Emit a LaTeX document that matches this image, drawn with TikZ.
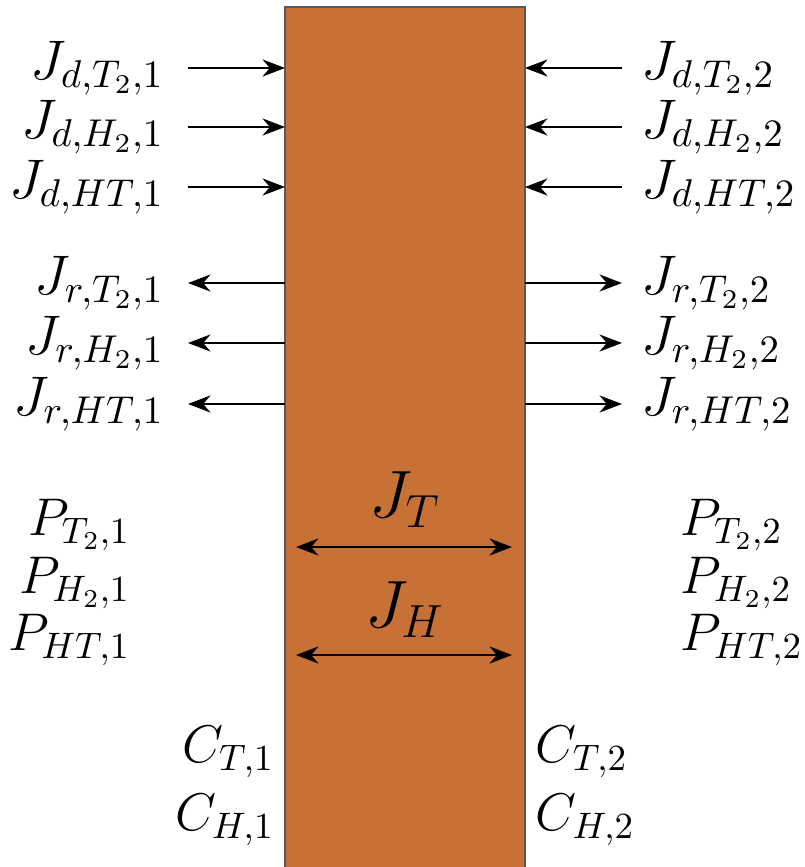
\documentclass[tikz,border=0pt]{standalone}
\usetikzlibrary{arrows.meta, positioning, calc}
\definecolor{copper}{HTML}{C87137}
\begin{document}
\begin{tikzpicture}[x=0.258pt, y=-0.258pt, font=\Large,
  flux/.style={line width=0.58pt, -{Stealth[length=5.8pt, width=4.4pt]}},
  both/.style={line width=0.58pt, {Stealth[length=5.8pt, width=4.4pt]}-{Stealth[length=5.8pt, width=4.4pt]}},
  lbl/.style={inner sep=0pt},
  small/.style={lbl, scale=0.95, transform shape}]
  \useasboundingbox (0,0) rectangle (805,867);
  \clip (0,0) rectangle (805,867);

  % Membrane
  \node[draw=gray!70!black, fill=copper, line width=0.35pt, minimum width=61.9pt,
        minimum height=227pt, inner sep=0pt, outer sep=0pt] (wall) at (405,447) {};

  % Left: incoming (dissociation) fluxes
  \node[lbl, anchor=east] (jdT1) at (165,68) {$J_{d,T_2,1}$};
  \node[lbl, anchor=east] (jdH1) at (165,127) {$J_{d,H_2,1}$};
  \node[lbl, anchor=east] (jdX1) at (165,187) {$J_{d,HT,1}$};
  \draw[flux] ($(jdT1.east)+(23,0)$) -- (jdT1 -| wall.west);
  \draw[flux] ($(jdH1.east)+(23,0)$) -- (jdH1 -| wall.west);
  \draw[flux] ($(jdX1.east)+(23,0)$) -- (jdX1 -| wall.west);

  % Left: outgoing (recombination) fluxes
  \node[lbl, anchor=east] (jrT1) at (165,283) {$J_{r,T_2,1}$};
  \node[lbl, anchor=east] (jrH1) at (165,343) {$J_{r,H_2,1}$};
  \node[lbl, anchor=east] (jrX1) at (165,404) {$J_{r,HT,1}$};
  \draw[flux] (jrT1 -| wall.west) -- ($(jrT1.east)+(23,0)$);
  \draw[flux] (jrH1 -| wall.west) -- ($(jrH1.east)+(23,0)$);
  \draw[flux] (jrX1 -| wall.west) -- ($(jrX1.east)+(23,0)$);

  % Right: incoming fluxes
  \node[lbl, anchor=west] (jdT2) at (641,68) {$J_{d,T_2,2}$};
  \node[lbl, anchor=west] (jdH2) at (641,127) {$J_{d,H_2,2}$};
  \node[lbl, anchor=west] (jdX2) at (641,187) {$J_{d,HT,2}$};
  \draw[flux] ($(jdT2.west)+(-19,0)$) -- (jdT2 -| wall.east);
  \draw[flux] ($(jdH2.west)+(-19,0)$) -- (jdH2 -| wall.east);
  \draw[flux] ($(jdX2.west)+(-19,0)$) -- (jdX2 -| wall.east);

  % Right: outgoing fluxes
  \node[lbl, anchor=west] (jrT2) at (641,283) {$J_{r,T_2,2}$};
  \node[lbl, anchor=west] (jrH2) at (641,343) {$J_{r,H_2,2}$};
  \node[lbl, anchor=west] (jrX2) at (641,404) {$J_{r,HT,2}$};
  \draw[flux] (jrT2 -| wall.east) -- ($(jrT2.west)+(-19,0)$);
  \draw[flux] (jrH2 -| wall.east) -- ($(jrH2.west)+(-19,0)$);
  \draw[flux] (jrX2 -| wall.east) -- ($(jrX2.west)+(-19,0)$);

  % Partial pressures
  \node[small, anchor=east] (pT1) at (131,525) {$P_{T_2,1}$};
  \node[small, anchor=east] (pH1) at (131,583) {$P_{H_2,1}$};
  \node[small, anchor=east] (pX1) at (131,640) {$P_{HT,1}$};
  \node[small, anchor=west] (pT2) at (680,525) {$P_{T_2,2}$};
  \node[small, anchor=west] (pH2) at (680,583) {$P_{H_2,2}$};
  \node[small, anchor=west] (pX2) at (680,640) {$P_{HT,2}$};

  % Diffusive fluxes through the membrane
  \node[lbl, font=\LARGE] (jT) at (405,500) {$J_T$};
  \node[lbl, font=\LARGE] (jH) at (405,610) {$J_H$};
  \coordinate (jTa) at (296,547);
  \coordinate (jTb) at (512,547);
  \coordinate (jHa) at (296,655);
  \coordinate (jHb) at (512,655);
  \draw[both] (jTa) -- (jTb);
  \draw[both] (jHa) -- (jHb);

  % Surface concentrations
  \node[small, anchor=east] (cT1) at (275,752) {$C_{T,1}$};
  \node[small, anchor=east] (cH1) at (275,820) {$C_{H,1}$};
  \node[small, anchor=west] (cT2) at (535,752) {$C_{T,2}$};
  \node[small, anchor=west] (cH2) at (535,820) {$C_{H,2}$};
\end{tikzpicture}
\end{document}
